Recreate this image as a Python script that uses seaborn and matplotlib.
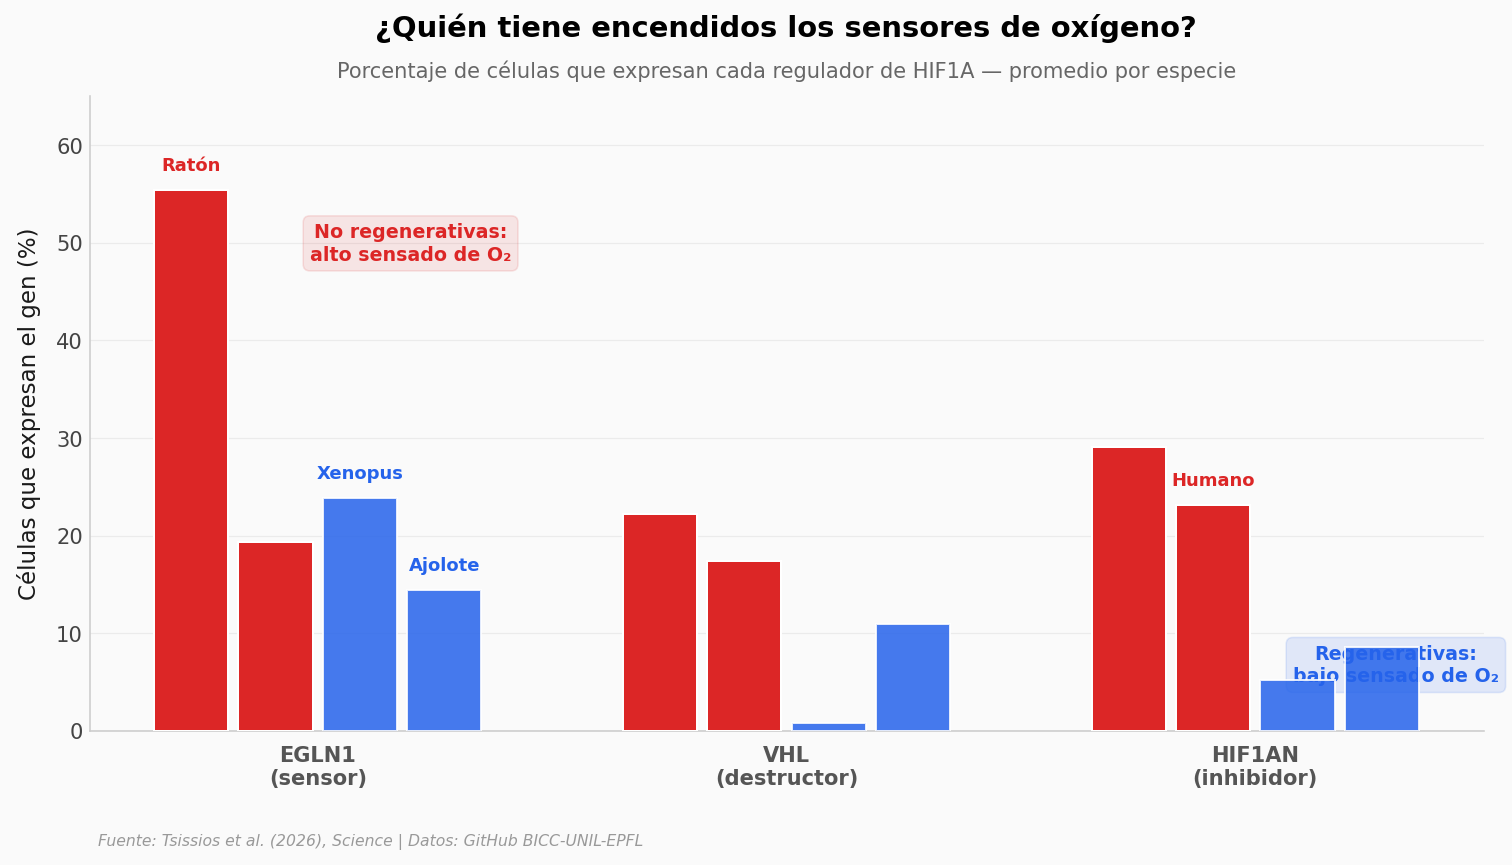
import pandas as pd
import numpy as np
import seaborn as sns
import matplotlib.pyplot as plt

# datos
genes = ["EGLN1\n(sensor)", "VHL\n(destructor)", "HIF1AN\n(inhibidor)"]
especies = ["Ratón", "Humano", "Xenopus", "Ajolote"]
raton = [55.4, 22.2, 29.1]
humano = [19.4, 17.4, 23.1]
xenopus = [23.9, 0.8, 5.2]
ajolote = [14.4, 10.9, 8.6]

rojo = "#dc2626"
azul = "#2563eb"
colores = [rojo, rojo, azul, azul]

df = pd.DataFrame({
    "gen": genes * 4,
    "especie": np.repeat(especies, 3),
    "pct": raton + humano + xenopus + ajolote,
})

sns.set_theme(style="white")
plt.rcParams["font.family"] = ["DejaVu Sans"]

fig = plt.figure(figsize=(10.5, 6.01), dpi=144, facecolor="#fafafa")
ax = fig.add_axes([0.0595, 0.155, 0.922, 0.733])
ax.set_facecolor("#fafafa")

sns.barplot(data=df, x="gen", y="pct", hue="especie", order=genes,
            hue_order=especies, palette=colores, width=0.72, gap=0.12,
            edgecolor="white", linewidth=1, saturation=1, ax=ax,
            legend=False, zorder=3)

# regenerativas un poco transparentes
for cont, esp in zip(ax.containers, especies):
    if esp in ("Xenopus", "Ajolote"):
        for p in cont:
            p.set_alpha(0.85)

# etiquetas de especie
conts = dict(zip(especies, ax.containers))
etiquetas = [("Ratón", 0, rojo), ("Xenopus", 0, azul),
             ("Ajolote", 0, azul), ("Humano", 2, rojo)]
for esp, i, c in etiquetas:
    p = conts[esp][i]
    ax.text(p.get_x() + p.get_width() / 2, p.get_height() + 2.5, esp,
            ha="center", va="center", fontsize=9, fontweight="bold",
            color=c, zorder=4)

ax.text(0.198, 49.95, "No regenerativas:\nalto sensado de O₂", ha="center",
        va="center", fontsize=9.5, fontweight="bold", color=rojo,
        linespacing=1.25, zorder=1,
        bbox=dict(boxstyle="round,pad=0.35", fc=(0.86, 0.15, 0.15, 0.1),
                  ec=(0.86, 0.15, 0.15, 0.12), lw=0.8))
ax.text(2.30, 6.75, "Regenerativas:\nbajo sensado de O₂", ha="center",
        va="center", fontsize=9.5, fontweight="bold", color=azul,
        linespacing=1.25, zorder=1, clip_on=False,
        bbox=dict(boxstyle="round,pad=0.35", fc=(0.145, 0.39, 0.92, 0.12),
                  ec=(0.145, 0.39, 0.92, 0.12), lw=0.8))

ax.set_xlim(-0.486, 2.488)
ax.set_ylim(0, 65)
ax.set_yticks(range(0, 61, 10))
ax.set_xlabel("")
ax.set_ylabel("Células que expresan el gen (%)", fontsize=11.5,
              color="#1a1a1a", labelpad=7.5)
ax.yaxis.grid(True, color="#ebebeb", lw=0.6, zorder=0)
ax.set_axisbelow(True)
sns.despine(ax=ax)
for s in ("left", "bottom"):
    ax.spines[s].set_color("#cccccc")
    ax.spines[s].set_linewidth(0.8)
ax.tick_params(axis="y", labelsize=10.5, labelcolor="#444444", length=0)
ax.tick_params(axis="x", labelsize=10.5, labelcolor="#555555", length=4,
               color="#bbbbbb", width=0.8)
for t in ax.get_xticklabels():
    t.set_fontweight("bold")

fig.text(0.52, 0.967, "¿Quién tiene encendidos los sensores de oxígeno?",
         ha="center", va="center", fontsize=14.5, fontweight="bold",
         color="black")
fig.text(0.52, 0.918,
         "Porcentaje de células que expresan cada regulador de HIF1A — promedio por especie",
         ha="center", va="center", fontsize=10.5, color="#666666")
fig.text(0.065, 0.027,
         "Fuente: Tsissios et al. (2026), Science | Datos: GitHub BICC-UNIL-EPFL",
         ha="left", va="center", fontsize=7.8, style="italic", color="#999999")

fig.savefig("out.png", dpi=144, facecolor=fig.get_facecolor())
